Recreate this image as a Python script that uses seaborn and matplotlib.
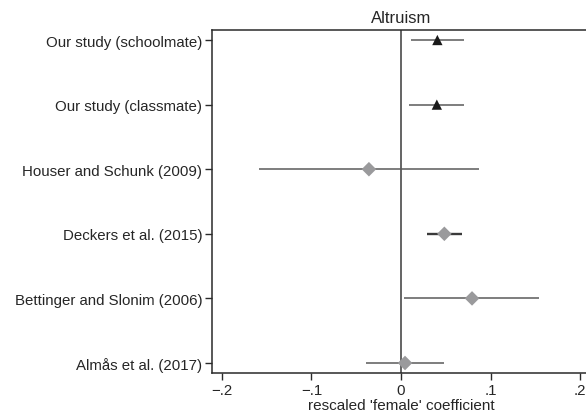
import pandas as pd
import seaborn as sns
import matplotlib.pyplot as plt

# Study estimates
studies = ['Our study (schoolmate)', 'Our study (classmate)', 'Houser and Schunk (2009)',
           'Deckers et al. (2015)', 'Bettinger and Slonim (2006)', 'Almås et al. (2017)']
coef = [0.0406, 0.0400, -0.0358, 0.0484, 0.0793, 0.0045]
ci_low = [0.0108, 0.0093, -0.1580, 0.0287, 0.0034, -0.0390]
ci_high = [0.0704, 0.0707, 0.0868, 0.0678, 0.1545, 0.0477]
source = ['ours', 'ours', 'lit', 'lit', 'lit', 'lit']
xticks = [-0.2, -0.1, 0, 0.1, 0.2]
xticklabels = ['\u2212.2', '\u2212.1', '0', '.1', '.2']

df = pd.DataFrame({'study': studies, 'coef': coef, 'lo': ci_low, 'hi': ci_high, 'source': source})
df['pos'] = range(len(df))

sns.set_style('ticks')
plt.rcParams['font.family'] = ['Liberation Sans', 'DejaVu Sans']

fig = plt.figure(figsize=(5.86, 4.14), dpi=100)
ax = fig.add_axes([0.3618, 0.0966, 0.645, 0.8285])

# zero line
ax.axvline(0, color='#4a4a4a', lw=1.2, zorder=1)

# confidence intervals
for i, r in df.iterrows():
    thick = r['study'].startswith('Deckers')
    ax.hlines(r['pos'], r['lo'], r['hi'], color='#3a3a3a' if thick else '#5a5a5a',
              lw=1.7 if thick else 1.1, zorder=2)

# point estimates
sns.scatterplot(data=df, x='coef', y='pos', hue='source', style='source',
                palette={'ours': '#1a1a1a', 'lit': '#9a9a9c'},
                markers={'ours': '^', 'lit': 'D'}, s=55, linewidth=0,
                legend=False, zorder=3, ax=ax)

ax.set_xlim(-0.211, 0.211)
ax.set_ylim(5.155, -0.155)
ax.set_xticks(xticks)
ax.set_xticklabels(xticklabels, fontsize=10.8)
ax.set_yticks(df['pos'])
ax.set_yticklabels(studies, fontsize=10.8)
ax.set_xlabel("rescaled 'female' coefficient", fontsize=11, labelpad=1)
ax.set_ylabel('')
ax.set_title('Altruism', fontsize=12, pad=6)

for s in ['left', 'bottom', 'top', 'right']:
    ax.spines[s].set_color('#2a2a2a')
    ax.spines[s].set_linewidth(1.1)
ax.tick_params(axis='both', direction='out', length=5, width=1, color='#2a2a2a', pad=2)

fig.savefig('out.png', dpi=100)
